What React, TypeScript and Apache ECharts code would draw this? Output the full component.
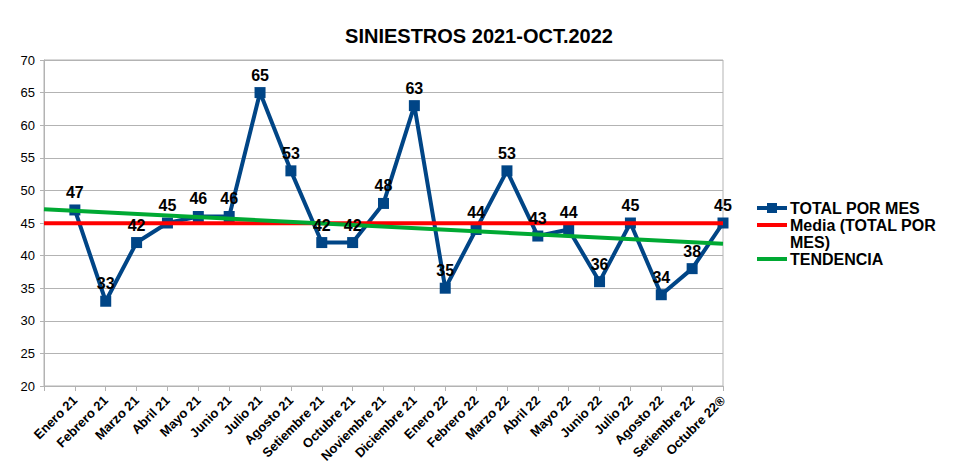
import React, { useEffect, useRef } from "react";
import * as echarts from "echarts";

const categories = [
  "Enero 21", "Febrero 21", "Marzo 21", "Abril 21", "Mayo 21", "Junio 21",
  "Julio 21", "Agosto 21", "Setiembre 21", "Octubre 21", "Noviembre 21", "Diciembre 21",
  "Enero 22", "Febrero 22", "Marzo 22", "Abril 22", "Mayo 22", "Junio 22",
  "Julio 22", "Agosto 22", "Setiembre 22", "Octubre 22®",
];
const totalPorMes = [47, 33, 42, 45, 46, 46, 65, 53, 42, 42, 48, 63, 35, 44, 53, 43, 44, 36, 45, 34, 38, 45];
// trend line values read at the left and right edges of the plot
const tendencia = [47.1, 41.8];
const yTicks = { min: 20, max: 70, interval: 5 };

const FONT = "'Liberation Sans', Arial, sans-serif";
const BLUE = "#004586";
const RED = "#ff0000";
const GREEN = "#00a933";
const GRID = "#b3b3b3";

export default function App() {
  const ref = useRef<HTMLDivElement>(null);
  useEffect(() => {
    document.body.style.margin = "0";
    if (!ref.current) return;
    const chart = echarts.init(ref.current, null, { renderer: "svg" });
    const n = categories.length;
    const media = totalPorMes.reduce((a, b) => a + b, 0) / totalPorMes.length;
    const points = totalPorMes.map((v, i) => [i + 1, v]);

    const legendX = 757;
    const legendText = (x: number, y: number, t: string) => ({
      type: "text",
      x,
      y,
      style: { text: t, font: `bold 16px ${FONT}`, fill: "#000", textVerticalAlign: "middle" },
    });

    chart.setOption({
      animation: false,
      backgroundColor: "#fff",
      title: {
        text: "SINIESTROS 2021-OCT.2022",
        left: "center",
        top: 21,
        textStyle: { fontFamily: FONT, fontSize: 20, fontWeight: "bold", color: "#000" },
      },
      grid: {
        left: 44,
        right: 235,
        top: 60,
        bottom: 82,
        show: true,
        borderColor: GRID,
        borderWidth: 1,
      },
      xAxis: {
        type: "value",
        min: 0,
        max: n,
        interval: 1,
        axisLine: { show: true, lineStyle: { color: GRID, width: 1 } },
        axisTick: { show: true, length: 5, lineStyle: { color: GRID } },
        splitLine: { show: false },
        axisLabel: {
          rotate: 45,
          margin: 12,
          fontFamily: FONT,
          fontSize: 13,
          fontWeight: "bold",
          color: "#000",
          formatter: (v: number) => (v >= 1 && v <= n ? categories[v - 1] : ""),
        },
      },
      yAxis: {
        type: "value",
        min: yTicks.min,
        max: yTicks.max,
        interval: yTicks.interval,
        axisLine: { show: true, lineStyle: { color: GRID, width: 1 } },
        axisTick: { show: true, length: 4, lineStyle: { color: GRID } },
        splitLine: { show: true, lineStyle: { color: GRID, width: 1 } },
        axisLabel: { fontFamily: FONT, fontSize: 13, color: "#000", margin: 9 },
      },
      series: [
        {
          name: "TOTAL POR MES",
          type: "line",
          data: points,
          symbol: "rect",
          symbolSize: 11,
          lineStyle: { color: BLUE, width: 4 },
          itemStyle: { color: BLUE },
          z: 2,
        },
        {
          name: "Media (TOTAL POR MES)",
          type: "line",
          data: [[0, media], [n, media]],
          symbol: "none",
          lineStyle: { color: RED, width: 4 },
          itemStyle: { color: RED },
          silent: true,
          z: 3,
        },
        {
          name: "TENDENCIA",
          type: "line",
          data: [[0, tendencia[0]], [n, tendencia[1]]],
          symbol: "none",
          lineStyle: { color: GREEN, width: 4 },
          itemStyle: { color: GREEN },
          silent: true,
          z: 4,
        },
        {
          name: "TOTAL POR MES (etiquetas)",
          type: "scatter",
          data: points,
          symbol: "rect",
          symbolSize: 11,
          itemStyle: { color: "rgba(0,0,0,0)", opacity: 1 },
          silent: true,
          z: 10,
          label: {
            show: true,
            position: "top",
            distance: 4,
            fontFamily: FONT,
            fontSize: 16,
            fontWeight: "bold",
            color: "#000",
            opacity: 1,
            formatter: (p: any) => String(p.value[1]),
          },
        },
      ],
      graphic: [
        { type: "line", shape: { x1: legendX, y1: 208, x2: legendX + 30, y2: 208 }, style: { stroke: BLUE, lineWidth: 4 } },
        { type: "rect", shape: { x: legendX + 10, y: 203, width: 10, height: 10 }, style: { fill: BLUE } },
        legendText(790, 208, "TOTAL POR MES"),
        { type: "line", shape: { x1: legendX, y1: 225, x2: legendX + 30, y2: 225 }, style: { stroke: RED, lineWidth: 4 } },
        legendText(790, 225, "Media (TOTAL POR"),
        legendText(790, 242, "MES)"),
        { type: "line", shape: { x1: legendX, y1: 259, x2: legendX + 30, y2: 259 }, style: { stroke: GREEN, lineWidth: 4 } },
        legendText(790, 259, "TENDENCIA"),
      ],
    });
    return () => chart.dispose();
  }, []);
  return <div ref={ref} style={{ width: 958, height: 468 }} />;
}
